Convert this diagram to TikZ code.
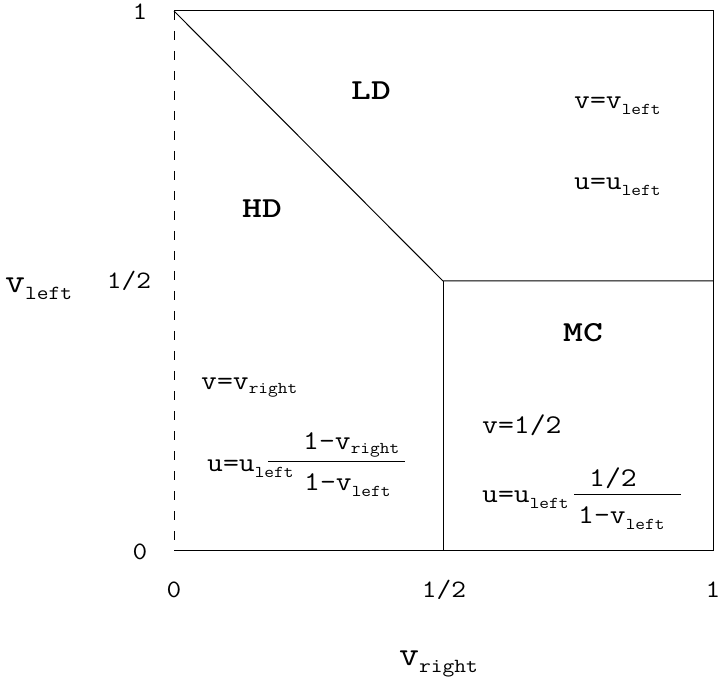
\documentclass[tikz,border=0pt]{standalone}
\usepackage{graphicx}
\newcommand\cw[1]{\scalebox{1.14}[1]{#1}}
\newcommand\mainf{\ttfamily\fontsize{27}{27}\selectfont}
\newcommand\subf{\ttfamily\fontsize{16.5}{16.5}\selectfont}
\newcommand\axf{\ttfamily\fontsize{34}{34}\selectfont}
\newcommand\axsubf{\ttfamily\fontsize{20}{20}\selectfont}
\newcommand\tickf{\ttfamily\fontsize{25}{25}\selectfont}
\newcommand\regf{\ttfamily\bfseries\fontsize{29}{29}\selectfont}
\newcommand\sbx[2][6]{\raisebox{-#1pt}{\subf #2}}
\newcommand\axsbx[1]{\raisebox{-7pt}{\axsubf #1}}
\begin{document}
\begin{tikzpicture}[x=1pt,y=-1pt,
  txt/.style={inner sep=0pt,anchor=base west,font=\mainf},
  tick/.style={inner sep=0pt,anchor=center,font=\tickf},
  region/.style={inner sep=0pt,anchor=center,font=\regf},
  axlabel/.style={inner sep=0pt,anchor=base west,font=\axf},
  edge/.style={line width=1pt,black},
  dashedge/.style={line width=1pt,black,dash pattern=on 9pt off 11pt},
  fbar/.style={line width=1pt,black}]
\useasboundingbox (0,0) rectangle (721,679);
% corners and phase boundaries
\coordinate (TL) at (174,11);
\coordinate (TR) at (713,11);
\coordinate (BR) at (713,550);
\coordinate (BL) at (174,550);
\coordinate (M) at (443,281);
\coordinate (MR) at (713,281);
\coordinate (MB) at (443,550);
\draw[edge] (TL) -- (TR) -- (BR) -- (BL);
\draw[dashedge] (TL) -- (BL);
\draw[edge] (TL) -- (M) -- (MR);
\draw[edge] (M) -- (MB);
% tick labels
\node[tick] (y1) at (140,12) {\cw{1}};
\node[tick] (yh) at (129,281) {\cw{1/2}};
\node[tick] (y0) at (140,552) {\cw{0}};
\node[tick] (x0) at (174,590) {\cw{0}};
\node[tick] (xh) at (444,590) {\cw{1/2}};
\node[tick] (x1) at (713,590) {\cw{1}};
% axis labels
\node[axlabel] (vl) at (5,293) {\cw{v\axsbx{left}}};
\node[axlabel] (vr) at (399,665) {\cw{v\axsbx{right}}};
% region names
\node[region] (LD) at (371,91) {\scalebox{1.3}[1]{LD}};
\node[region] (HD) at (262,209) {\scalebox{1.3}[1]{HD}};
\node[region] (MC) at (583,333) {\scalebox{1.3}[1]{MC}};
% LD region formulas
\node[txt] (ldv) at (574,109) {\cw{v=v\sbx{left}}};
\node[txt] (ldu) at (574,190) {\cw{u=u\sbx{left}}};
% HD region formulas
\node[txt] (hdv) at (201,389) {\cw{v=v\sbx[5]{right}}};
\node[txt] (hdu) at (207,471) {\cw{u=u\sbx[6]{left}}};
\node[txt] (hdn) at (303,449) {\cw{1-v\sbx[5]{right}}};
\node[txt] (hdd) at (304,490) {\cw{1-v\sbx{left}}};
\coordinate (hdb1) at (268,461);
\coordinate (hdb2) at (405,461);
\draw[fbar] (hdb1) -- (hdb2);
% MC region formulas
\node[txt] (mcv) at (482,433) {\cw{v=1/2}};
\node[txt] (mcu) at (482,502) {\cw{u=u\sbx{left}}};
\node[txt] (mcn) at (589,486) {\cw{1/2}};
\node[txt] (mcd) at (578,523) {\cw{1-v\sbx{left}}};
\coordinate (mcb1) at (574,494);
\coordinate (mcb2) at (681,494);
\draw[fbar] (mcb1) -- (mcb2);
\end{tikzpicture}
\end{document}
